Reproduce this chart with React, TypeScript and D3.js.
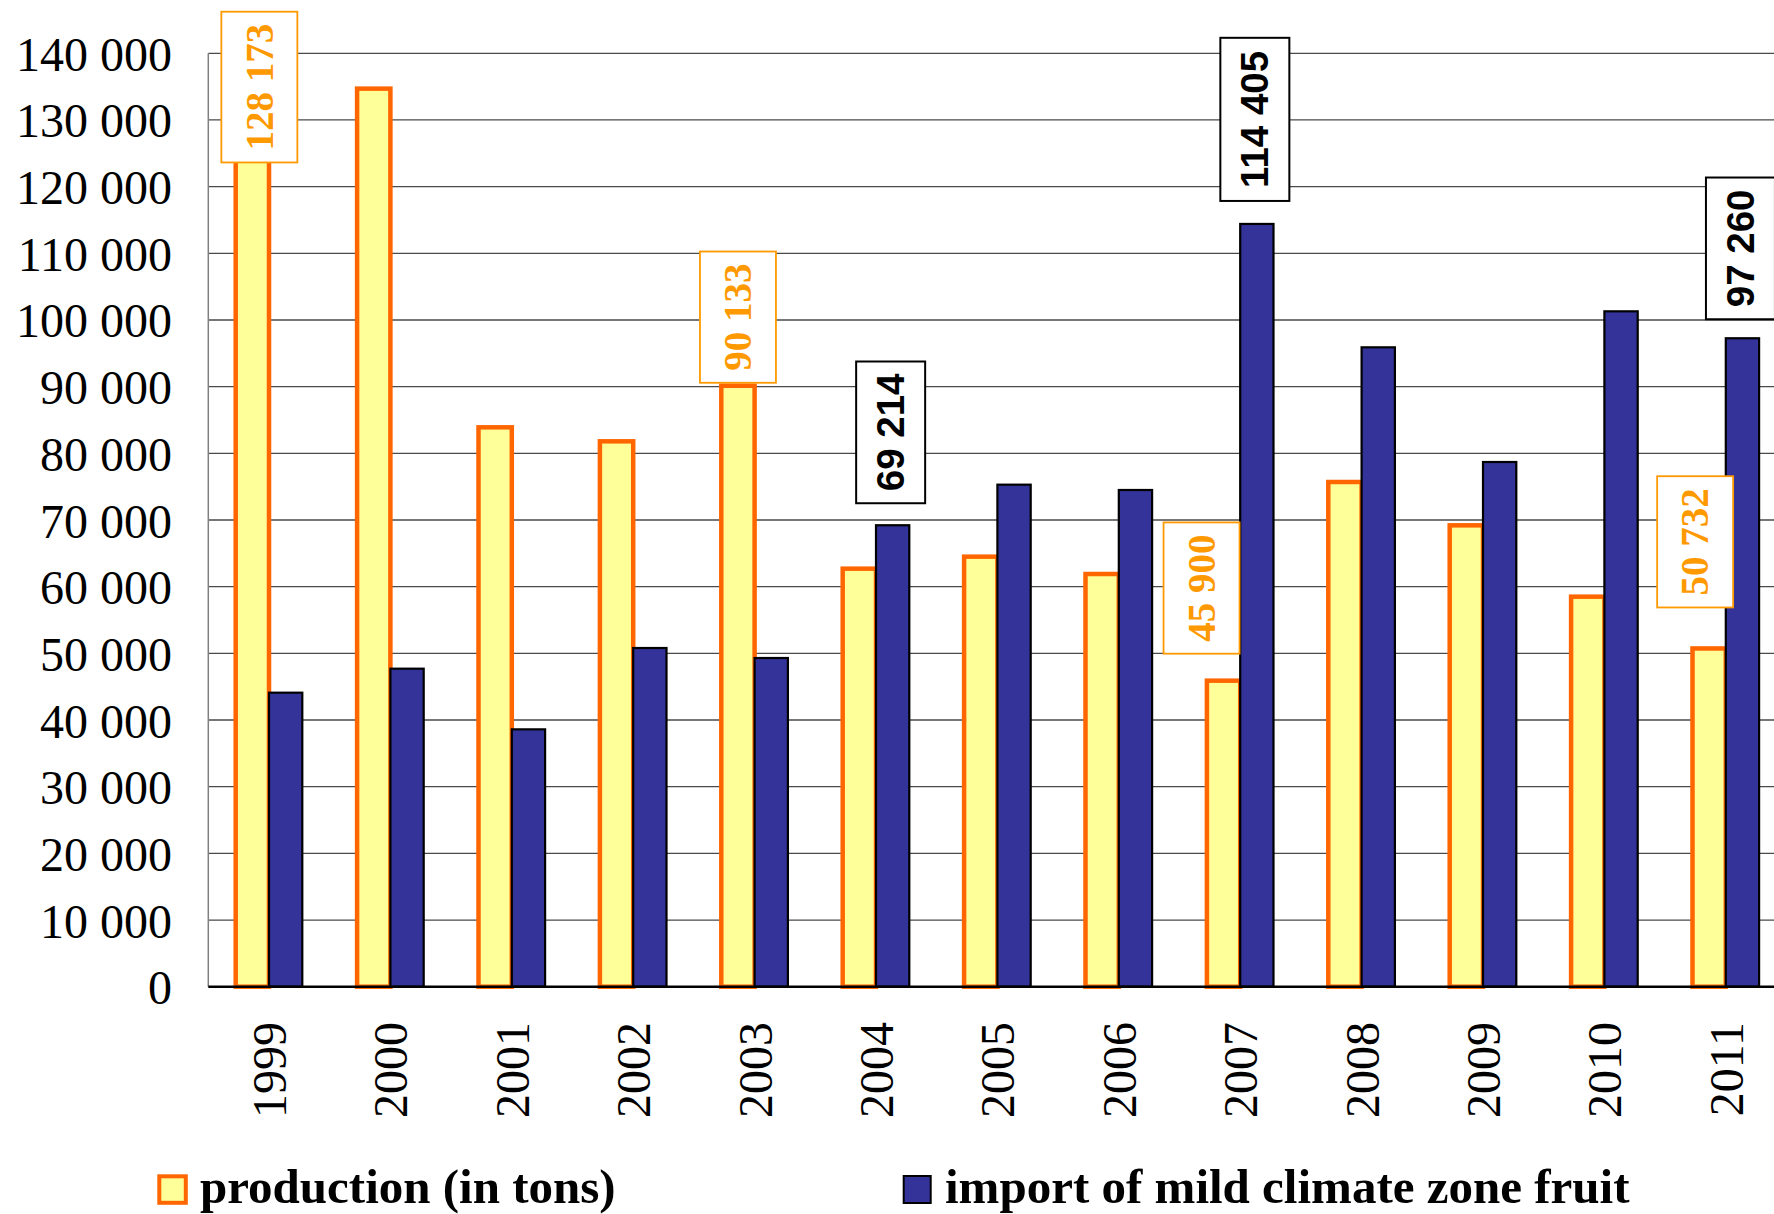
import React from "react";
import * as d3 from "d3";

const years = ["1999","2000","2001","2002","2003","2004","2005","2006","2007","2008","2009","2010","2011"];
const production = [128173, 134700, 83900, 81800, 90133, 62700, 64500, 61900, 45900, 75700, 69200, 58500, 50732];
const imports = [44100, 47700, 38600, 50800, 49300, 69214, 75300, 74500, 114405, 95900, 78700, 101300, 97260];
const yTicks = [0, 10000, 20000, 30000, 40000, 50000, 60000, 70000, 80000, 90000, 100000, 110000, 120000, 130000, 140000];
const seriesNames = ["production (in tons)", "import of mild climate zone fruit"];

// labelled points: series index, year index, horizontal shift, gap above bar
const labelPoints = [
  { s: 0, i: 0, dx: 7, gap: 3 },
  { s: 0, i: 4, dx: 0, gap: 3 },
  { s: 0, i: 8, dx: -22, gap: 27 },
  { s: 0, i: 12, dx: -14, gap: 41 },
  { s: 1, i: 5, dx: -2, gap: 22 },
  { s: 1, i: 8, dx: -2, gap: 23 },
  { s: 1, i: 12, dx: -2, gap: 19 },
];

const W = 1774, H = 1214;
const plotLeft = 208.3, plotTop = 53.3, plotBottom = 986.7;
const step = 121.4;
const serif = "'Liberation Serif', 'Times New Roman', serif";
const sans = "'Liberation Sans', Arial, sans-serif";

const fmt = (v: number) => {
  const s = Math.round(v).toString();
  return s.replace(/\B(?=(\d{3})+(?!\d))/g, " ");
};

export default function App() {
  const x = d3.scaleBand<string>().domain(years).range([plotLeft, plotLeft + step * years.length]).padding(0);
  const y = d3.scaleLinear().domain([0, 140000]).range([plotBottom, plotTop]);
  const barW = 33.3;
  const x1 = d3.scaleBand<number>().domain([0, 1]).range([-barW, barW]).padding(0);
  const data = [production, imports];

  const styles = [
    { fill: "#FFFF99", stroke: "#FF6600", sw: 4.5 },
    { fill: "#333399", stroke: "#000000", sw: 2.2 },
  ];

  const labelStyle = [
    { font: serif, color: "#FF9900", border: "#FF9900", bw: 1.8, boxW: 76, digit: 0.5, space: 0.25, fs: 39 },
    { font: sans, color: "#000000", border: "#000000", bw: 2, boxW: 69, digit: 0.556, space: 0.278, fs: 38.5 },
  ];

  return (
    <svg width={W} height={H} style={{ position: "absolute", left: 0, top: 0, background: "#fff" }}>
      {/* gridlines */}
      {yTicks.filter(t => t > 0).map(t => (
        <line key={"g" + t} x1={plotLeft} x2={W} y1={y(t)} y2={y(t)} stroke="#4a4a4a" strokeWidth={1.3} />
      ))}
      {/* left axis */}
      <line x1={plotLeft} x2={plotLeft} y1={plotTop} y2={plotBottom} stroke="#808080" strokeWidth={1.5} />
      {/* y tick labels */}
      {yTicks.map(t => (
        <text key={"t" + t} x={172} y={y(t) + 17.5} textAnchor="end" fontFamily={serif} fontSize={48} fill="#000">
          {fmt(t)}
        </text>
      ))}
      {/* bars */}
      {years.map((yr, i) => {
        const cx = (x(yr) as number) + x.bandwidth() / 2;
        return (
          <g key={"b" + yr}>
            {data.map((arr, s) => (
              <rect
                key={s}
                x={cx + (x1(s) as number)}
                y={y(arr[i])}
                width={x1.bandwidth()}
                height={y(0) - y(arr[i])}
                fill={styles[s].fill}
                stroke={styles[s].stroke}
                strokeWidth={styles[s].sw}
              />
            ))}
          </g>
        );
      })}
      {/* bottom axis */}
      <line x1={plotLeft} x2={W} y1={plotBottom} y2={plotBottom} stroke="#000" strokeWidth={2.5} />
      {/* year labels */}
      {years.map(yr => {
        const cx = (x(yr) as number) + x.bandwidth() / 2;
        return (
          <text key={"y" + yr} transform={`translate(${cx + 17},${1022}) rotate(-90)`} textAnchor="end"
            fontFamily={serif} fontSize={48} fill="#000">
            {yr}
          </text>
        );
      })}
      {/* data labels */}
      {labelPoints.map((lp, k) => {
        const st = labelStyle[lp.s];
        const v = data[lp.s][lp.i];
        const txt = fmt(v);
        const digits = txt.replace(/ /g, "").length;
        const spaces = txt.length - digits;
        const textLen = (digits * st.digit + spaces * st.space) * st.fs;
        const boxH = textLen + 24;
        const cx = (x(years[lp.i]) as number) + x.bandwidth() / 2 + (x1(lp.s) as number) + x1.bandwidth() / 2 + lp.dx;
        let bottom = y(v) - lp.gap;
        let top = bottom - boxH;
        if (top < 11.7) { top = 11.7; bottom = top + boxH; }
        const cy = (top + bottom) / 2;
        return (
          <g key={"l" + k}>
            <rect x={cx - st.boxW / 2} y={top} width={st.boxW} height={boxH} fill="#fff" stroke={st.border} strokeWidth={st.bw} />
            <text transform={`translate(${cx + 0.34 * st.fs},${cy}) rotate(-90)`} textAnchor="middle"
              fontFamily={st.font} fontWeight="bold" fontSize={st.fs} fill={st.color}>
              {txt}
            </text>
          </g>
        );
      })}
      {/* legend */}
      <rect x={159.3} y={1176.3} width={26.5} height={26.5} fill={styles[0].fill} stroke={styles[0].stroke} strokeWidth={4} />
      <text x={200} y={1203} fontFamily={serif} fontWeight="bold" fontSize={49} fill="#000">{seriesNames[0]}</text>
      <rect x={903.7} y={1176} width={27} height={27} fill={styles[1].fill} stroke={styles[1].stroke} strokeWidth={2} />
      <text x={945} y={1203} fontFamily={serif} fontWeight="bold" fontSize={49} fill="#000">{seriesNames[1]}</text>
    </svg>
  );
}
